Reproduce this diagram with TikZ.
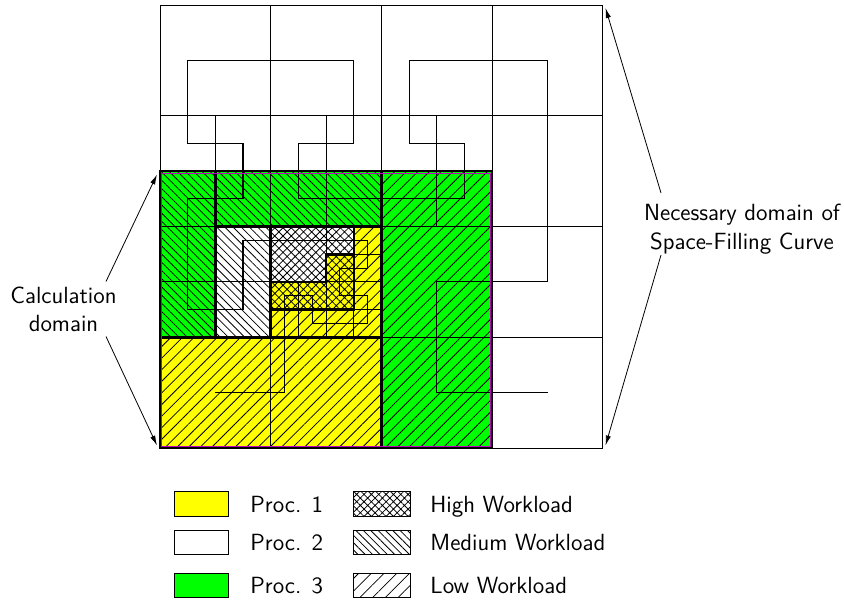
\documentclass[tikz,border=0pt]{standalone}
\usetikzlibrary{patterns.meta,arrows.meta}
\definecolor{procyellow}{RGB}{255,255,0}
\definecolor{procgreen}{RGB}{0,255,0}
\definecolor{domainmag}{RGB}{190,0,190}
\tikzset{
  gridln/.style={line width=0.5pt, draw=black},
  partln/.style={line width=1.25pt, draw=black, line cap=rect},
  sfcln/.style={line width=0.55pt, draw=black, line join=miter},
  lowhatch/.style={pattern={Lines[angle=45,distance=4.1pt,line width=0.4pt]}, pattern color=black},
  medhatch/.style={pattern={Lines[angle=-45,distance=2.9pt,line width=0.4pt]}, pattern color=black},
  highhatch/.style={pattern={Hatch[angle=45,distance=2.9pt,line width=0.4pt]}, pattern color=black},
  leglow/.style={pattern={Lines[angle=45,distance=4.5pt,line width=0.4pt]}, pattern color=black},
  legmed/.style={pattern={Lines[angle=-45,distance=2.6pt,line width=0.4pt]}, pattern color=black},
  leghigh/.style={pattern={Hatch[angle=45,distance=2.6pt,line width=0.4pt]}, pattern color=black},
  legbox/.style={draw=black, line width=0.5pt, inner sep=0pt, minimum width=27pt, minimum height=12.2pt},
  patbox/.style={draw=black, line width=0.5pt, inner sep=0pt, minimum width=28.3pt, minimum height=12.2pt},
  lbl/.style={inner sep=0pt, align=center},
  legtext/.style={inner sep=0pt, anchor=base west},
  callout/.style={line width=0.4pt, -{Latex[length=5pt,width=2.6pt]}},
}
\begin{document}
\begin{tikzpicture}[x=0.5pt,y=-0.5pt,font=\sffamily\fontsize{11.7}{14.2}\selectfont]
\useasboundingbox (0,0) rectangle (844,601);

\begin{scope}[shift={(160,448)},x=6.92pt,y=6.92pt]
  % --- fills: Proc. 1 (yellow)
  \fill[procyellow] (0,0) rectangle (16,8) (8,8) rectangle (16,10) (14,10) rectangle (16,16);
  \fill[lowhatch]   (0,0) rectangle (16,8) (8,8) rectangle (16,10) (14,10) rectangle (16,16);
  \fill[procyellow] (12,12) rectangle (14,14) (8,10) rectangle (14,12);
  \fill[highhatch]  (12,12) rectangle (14,14) (8,10) rectangle (14,12);
  % --- Proc. 2 (white)
  \fill[highhatch] (8,12) rectangle (12,16) (12,14) rectangle (14,16);
  \fill[medhatch]  (4,8) rectangle (8,16);
  % --- Proc. 3 (green)
  \fill[procgreen] (0,16) rectangle (16,20) (0,8) rectangle (4,16);
  \fill[medhatch]  (0,16) rectangle (16,20) (0,8) rectangle (4,16);
  \fill[procgreen] (16,0) rectangle (24,20);
  \fill[lowhatch]  (16,0) rectangle (24,20);

  % --- grid
  \foreach \i in {0,8,16,24,32} {
    \draw[gridln] (\i,0) -- (\i,32);
    \draw[gridln] (0,\i) -- (32,\i);
  }
  \draw[gridln] (4,8) -- (4,24);
  \draw[gridln] (12,8) -- (12,24);
  \draw[gridln] (20,16) -- (20,24);
  \draw[gridln] (0,12) -- (16,12);
  \draw[gridln] (0,20) -- (24,20);
  \draw[gridln] (14,8) -- (14,16);
  \draw[gridln] (12,14) -- (16,14);
  \draw[gridln] (10,8) -- (10,12);
  \draw[gridln] (8,10) -- (16,10);

  % --- space-filling curve
  \draw[sfcln] (4,4) -- (9,4) -- (9,11) -- (11,11) -- (11,9) -- (15,9) -- (15,11)
    -- (13,11) -- (13,13) -- (15,13) -- (15,15) -- (6,15) -- (6,10) -- (2,10)
    -- (2,18) -- (6,18) -- (6,22) -- (2,22) -- (2,28) -- (14,28) -- (14,22)
    -- (10,22) -- (10,18) -- (22,18) -- (22,22) -- (18,22) -- (18,28) -- (28,28)
    -- (28,12) -- (20,12) -- (20,4) -- (28,4);

  % --- partition boundaries
  \draw[partln] (0,0) rectangle (24,20);
  \draw[partln] (16,0) -- (16,20);
  \draw[partln] (0,8) -- (16,8);
  \draw[partln] (4,8) -- (4,20);
  \draw[partln] (4,16) -- (16,16);
  \draw[partln] (8,8) -- (8,16);
  \draw[partln] (8,10) -- (14,10);
  \draw[partln] (14,10) -- (14,16);
  \draw[partln] (8,12) -- (12,12) -- (12,14) -- (14,14);

  % --- calculation domain outline
  \draw[domainmag, line width=0.5pt] (0.14,0.14) rectangle (23.86,19.86);
\end{scope}

% --- labels and arrows
\node[lbl] (calclabel) at (63.5,309.4) {Calculation\\domain};
\coordinate (calcA) at (106,281.5);
\coordinate (calcB) at (106,336.5);
\coordinate (calcTop) at (157,174.5);
\coordinate (calcBot) at (157,445.5);
\draw[callout] (calcA) -- (calcTop);
\draw[callout] (calcB) -- (calcBot);

\node[lbl] (sfclabel) at (742,229) {Necessary domain of\\Space-Filling Curve};
\coordinate (sfcA) at (661,193);
\coordinate (sfcB) at (661,255);
\coordinate (sfcTop) at (605.5,8);
\coordinate (sfcBot) at (605.5,445.5);
\draw[callout] (sfcA) -- (sfcTop);
\draw[callout] (sfcB) -- (sfcBot);

% --- legend
\node[legbox, fill=procyellow] (leg1) at (201.7,503.8) {};
\node[legbox, fill=white]      (leg2) at (201.7,542.5) {};
\node[legbox, fill=procgreen]  (leg3) at (201.7,585.3) {};
\node[legtext] (legt1) at (250,512.2) {Proc. 1};
\node[legtext] (legt2) at (250,550.9) {Proc. 2};
\node[legtext] (legt3) at (250,593.7) {Proc. 3};

\node[patbox, leghigh] (pat1) at (381.7,503.8) {};
\node[patbox, legmed]  (pat2) at (381.7,542.5) {};
\node[patbox, leglow]  (pat3) at (381.7,585.3) {};
\node[legtext] (patt1) at (430,512.2) {High Workload};
\node[legtext] (patt2) at (430,550.9) {Medium Workload};
\node[legtext] (patt3) at (430,593.7) {Low Workload};
\end{tikzpicture}
\end{document}
